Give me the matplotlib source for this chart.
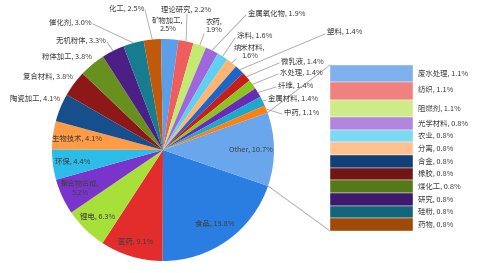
import matplotlib
matplotlib.use("Agg")
import matplotlib.pyplot as plt
import numpy as np

plt.rcParams['font.family'] = ['Noto Sans CJK SC', 'DejaVu Sans']

# pie slices, clockwise starting with the food slice
pie_names = ['食品', '医药', '锂电', '聚合物合成', '环保', '生物技术', '陶瓷加工', '复合材料',
             '粉体加工', '无机粉体', '催化剂', '化工', '矿物加工', '理论研究', '农药', '金属氧化物',
             '涂料', '纳米材料', '塑料', '微乳液', '水处理', '纤维', '金属材料', '中药', 'Other']
pie_vals = [19.8, 9.1, 6.3, 5.2, 4.4, 4.1, 4.1, 3.8, 3.8, 3.3, 3.0, 2.5, 2.5, 2.2, 1.9, 1.9,
            1.6, 1.6, 1.4, 1.4, 1.4, 1.4, 1.4, 1.1, 10.7]
pie_colors = ['#2A7DE1', '#E32C2C', '#A8E03A', '#7A34CC', '#2BBCE8', '#FF9A45', '#174F8C',
              '#8E1818', '#67901F', '#4B1F85', '#177C90', '#C05A0A', '#5B9EEA', '#EE5E5E',
              '#C3EB72', '#A066DE', '#5FD0F0', '#FFB474', '#1E65C6', '#C41F1F', '#8DC223',
              '#6A2AB8', '#1FA7CC', '#FF7F10', '#6AA6EC']

# the "Other" bar, top to bottom
bar_names = ['废水处理', '纺织', '阻燃剂', '光学材料', '农业', '分离', '合金', '橡胶',
             '煤化工', '研究', '硅粉', '药物']
bar_vals = [1.1, 1.1, 1.1, 0.8, 0.8, 0.8, 0.8, 0.8, 0.8, 0.8, 0.8, 0.8]
bar_colors = ['#7EB0EE', '#EF827E', '#CEEB87', '#B185E0', '#7DD8F2', '#FFC18F', '#123F75',
              '#731515', '#547A17', '#3F1A6C', '#13667A', '#A04A0A']

two_line = ['聚合物合成', '矿物加工', '农药', '纳米材料']
# inside labels and how far out along the radius they sit
inside = {'食品': 0.81, '医药': 0.86, '锂电': 0.84, '聚合物合成': 0.82, '环保': 0.82,
          '生物技术': 0.78, 'Other': 0.79}

H = 273
txt = '#404040'
line_c = '#A6A6A6'
fs = 5.3

# outside labels: x, y (pixels from top), ha, leader start (or None)
outer = {
    '陶瓷加工': (60, 99, 'right', None),
    '复合材料': (73, 77, 'right', None),
    '粉体加工': (92, 57, 'right', None),
    '无机粉体': (106, 41, 'right', (107, 42)),
    '催化剂': (92, 23, 'right', (93, 24)),
    '化工': (144, 9, 'right', (145, 10)),
    '矿物加工': (168, 25, 'center', None),
    '理论研究': (186, 10, 'center', (187, 14)),
    '农药': (214, 26, 'center', (204, 34)),
    '金属氧化物': (248, 14, 'left', (246, 15)),
    '涂料': (237, 36, 'left', (235, 38)),
    '纳米材料': (250, 52, 'center', (236, 59)),
    '塑料': (327, 32, 'left', (325, 34)),
    '微乳液': (281, 62, 'left', (279, 63)),
    '水处理': (280, 73, 'left', (278, 74)),
    '纤维': (278, 86, 'left', (276, 87)),
    '金属材料': (268, 99, 'left', (266, 100)),
    '中药': (284, 113, 'left', (282, 114)),
}

fig = plt.figure(figsize=(5, 2.73), dpi=100)
ax = fig.add_axes([0, 0, 1, 1])

cx, cy, r = 163, H - 150, 111
wedges, _ = ax.pie(pie_vals, colors=pie_colors, startangle=-18.9, counterclock=False,
                   center=(cx, cy), radius=r, wedgeprops=dict(linewidth=0))

for w, name, v in zip(wedges, pie_names, pie_vals):
    mid = np.deg2rad((w.theta1 + w.theta2) / 2)
    lab = f'{name}, {v}%'
    if name in two_line:
        lab = f'{name},\n{v}%'
    if name in inside:
        f = inside[name]
        ax.text(cx + f * r * np.cos(mid), cy + f * r * np.sin(mid), lab, ha='center', va='center',
                fontsize=fs, color=txt, linespacing=1.1)
    else:
        x, y, ha, lf = outer[name]
        ax.text(x, H - y, lab, ha=ha, va='center', fontsize=fs, color=txt, linespacing=1.1)
        if lf is not None:
            px, py = cx + r * np.cos(mid), cy + r * np.sin(mid)
            ax.plot([lf[0], px], [H - lf[1], py], color=line_c, lw=0.6)

# stacked bar for the "Other" slice
scale = 15.8
bx, bw, btop = 371.5, 83, H - 65
heights = np.array(bar_vals) * scale
bottoms = btop - np.cumsum(heights)
ax.bar([bx] * len(bar_vals), heights, width=bw, bottom=bottoms, color=bar_colors,
       edgecolor='white', linewidth=0.3)
for name, v, b, h in zip(bar_names, bar_vals, bottoms, heights):
    ax.text(bx + bw / 2 + 5, b + h / 2, f'{name}, {v}%', ha='left', va='center',
            fontsize=fs, color=txt)

# series lines from the Other slice to the bar
ow = wedges[-1]
for ang, yy in [(max(ow.theta1, ow.theta2), btop), (min(ow.theta1, ow.theta2), bottoms[-1])]:
    a = np.deg2rad(ang)
    ax.plot([cx + r * np.cos(a), bx - bw / 2], [cy + r * np.sin(a), yy], color=line_c, lw=0.6)

ax.set_xlim(0, 500)
ax.set_ylim(0, H)
ax.axis('off')
fig.savefig('out.png', dpi=100)
